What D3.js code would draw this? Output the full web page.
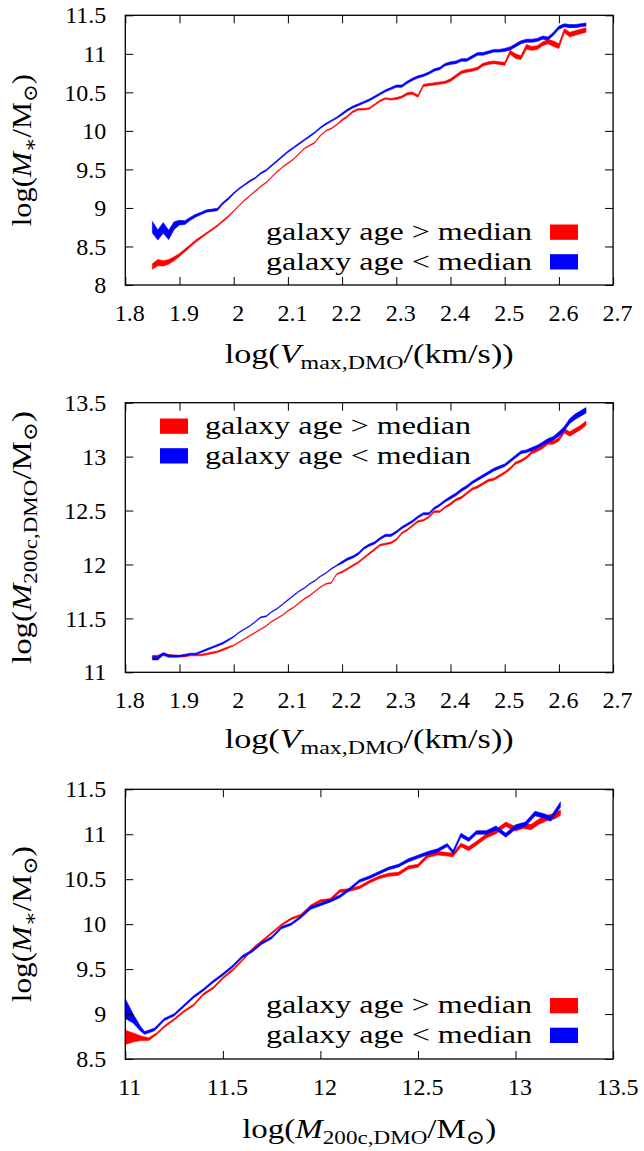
<!DOCTYPE html>
<html>
<head>
<meta charset="utf-8">
<script src="https://cdn.jsdelivr.net/npm/d3@7"></script>
<style>
  body { margin: 0; background: #fff; }
  svg { display: block; }
  text { font-family: "Liberation Serif", "DejaVu Serif", "Noto Serif", "Times New Roman", Tinos, FreeSerif, serif; fill: #000; }
</style>
</head>
<body>
<svg id="chart" width="644" height="1151"></svg>
<script>
// ---- data ----
var vmaxBins = [1.85,1.86,1.87,1.88,1.89,1.90,1.91,1.92,1.93,1.94,1.95,1.96,1.97,1.98,1.99,
  2.00,2.01,2.02,2.03,2.04,2.05,2.06,2.07,2.08,2.09,2.10,2.11,2.12,2.13,2.14,2.15,2.16,2.17,2.18,2.19,
  2.20,2.21,2.22,2.23,2.24,2.25,2.26,2.27,2.28,2.29,2.30,2.31,2.32,2.33,2.34,2.35,2.36,2.37,2.38,2.39,
  2.40,2.41,2.42,2.43,2.44,2.45,2.46,2.47,2.48,2.49,2.50,2.51,2.52,2.53,2.54,2.55,2.56,2.57,2.58,2.59,
  2.60,2.61,2.62,2.63,2.64,2.65];

// panel 1: log M* vs log Vmax
var mstarOld = [8.24,8.29,8.28,8.30,8.34,8.39,8.45,8.51,8.57,8.62,8.67,8.72,8.77,8.83,8.89,
  8.96,9.03,9.10,9.16,9.22,9.28,9.33,9.40,9.47,9.53,9.58,9.63,9.70,9.77,9.81,9.85,9.94,10.00,10.03,10.08,
  10.14,10.19,10.25,10.28,10.28,10.29,10.34,10.39,10.42,10.41,10.42,10.44,10.48,10.49,10.45,10.59,10.60,10.61,10.62,10.63,
  10.66,10.71,10.76,10.78,10.79,10.81,10.86,10.88,10.89,10.88,10.87,11.02,10.97,10.95,11.09,11.07,11.08,11.13,11.16,11.13,
  11.10,11.30,11.25,11.27,11.29,11.31];
var mstarOldErr = [0.07,0.08,0.07,0.06,0.05,0.04,0.035,0.03,0.03,0.025,0.02,0.02,0.02,0.02,0.02,
  0.012,0.012,0.012,0.012,0.012,0.012,0.012,0.012,0.012,0.012,0.012,0.012,0.012,0.012,0.012,0.012,0.012,0.012,0.012,0.012,
  0.02,0.02,0.02,0.02,0.02,0.02,0.02,0.02,0.02,0.02,0.025,0.025,0.03,0.03,0.03,0.03,0.03,0.03,0.03,0.03,
  0.035,0.035,0.035,0.035,0.035,0.035,0.035,0.035,0.035,0.035,0.04,0.05,0.06,0.05,0.06,0.05,0.05,0.05,0.06,0.07,
  0.06,0.05,0.06,0.06,0.06,0.06];
var mstarYoung = [8.75,8.65,8.74,8.65,8.77,8.81,8.81,8.86,8.90,8.93,8.96,8.97,8.98,9.06,9.12,
  9.19,9.25,9.30,9.35,9.39,9.45,9.49,9.55,9.61,9.67,9.73,9.78,9.83,9.88,9.93,9.98,10.04,10.09,10.13,10.17,
  10.22,10.27,10.31,10.34,10.37,10.40,10.44,10.48,10.52,10.55,10.58,10.58,10.63,10.67,10.70,10.72,10.75,10.79,10.81,10.86,
  10.88,10.89,10.92,10.92,10.96,11.00,11.00,11.02,11.04,11.04,11.05,11.07,11.11,11.15,11.17,11.17,11.18,11.21,11.20,11.26,
  11.34,11.37,11.36,11.36,11.37,11.38];
var mstarYoungErr = [0.15,0.13,0.14,0.12,0.10,0.06,0.05,0.04,0.035,0.03,0.03,0.03,0.03,0.025,0.025,
  0.018,0.018,0.018,0.018,0.018,0.018,0.018,0.018,0.018,0.018,0.018,0.018,0.018,0.018,0.018,0.018,0.018,0.018,0.018,0.018,
  0.025,0.025,0.025,0.025,0.025,0.025,0.025,0.025,0.025,0.025,0.03,0.03,0.03,0.03,0.03,0.03,0.03,0.03,0.03,0.03,
  0.035,0.035,0.035,0.035,0.035,0.035,0.035,0.035,0.035,0.035,0.04,0.04,0.04,0.04,0.04,0.04,0.04,0.04,0.04,0.04,
  0.04,0.04,0.04,0.04,0.04,0.04];

// panel 2: log M200c vs log Vmax
var mhaloOld = [11.15,11.15,11.17,11.16,11.15,11.15,11.15,11.16,11.16,11.16,11.17,11.18,11.19,11.21,11.23,
  11.25,11.28,11.31,11.34,11.37,11.40,11.43,11.47,11.50,11.53,11.57,11.60,11.64,11.68,11.71,11.75,11.79,11.82,11.83,11.91,
  11.93,11.96,11.99,12.02,12.06,12.10,12.14,12.18,12.19,12.20,12.23,12.29,12.32,12.36,12.40,12.41,12.44,12.49,12.49,12.53,
  12.56,12.60,12.62,12.66,12.70,12.72,12.75,12.78,12.79,12.82,12.85,12.89,12.94,12.96,12.99,13.04,13.06,13.09,13.13,13.13,
  13.16,13.24,13.21,13.24,13.27,13.31];
var mhaloOldErr = [0.015,0.015,0.015,0.015,0.015,0.015,0.015,0.015,0.015,0.015,0.015,0.015,0.015,0.015,0.015,
  0.008,0.008,0.008,0.008,0.008,0.008,0.008,0.008,0.008,0.008,0.008,0.008,0.008,0.008,0.008,0.008,0.008,0.008,0.008,0.008,
  0.015,0.015,0.015,0.015,0.015,0.015,0.015,0.015,0.015,0.015,0.015,0.015,0.015,0.015,0.015,0.015,0.015,0.015,0.015,0.015,
  0.02,0.02,0.02,0.02,0.02,0.02,0.02,0.02,0.02,0.02,0.02,0.02,0.02,0.02,0.02,0.025,0.025,0.03,0.03,0.03,
  0.03,0.04,0.04,0.04,0.04,0.04];
var mhaloYoung = [11.13,11.13,11.17,11.15,11.15,11.15,11.16,11.17,11.17,11.19,11.21,11.23,11.25,11.27,11.30,
  11.33,11.37,11.40,11.43,11.47,11.51,11.52,11.56,11.59,11.63,11.67,11.71,11.75,11.78,11.82,11.85,11.89,11.92,11.96,11.99,
  12.02,12.05,12.07,12.10,12.15,12.18,12.20,12.24,12.27,12.27,12.30,12.34,12.37,12.40,12.44,12.47,12.47,12.52,12.55,12.59,
  12.62,12.65,12.69,12.72,12.76,12.79,12.82,12.85,12.88,12.90,12.92,12.96,13.00,13.04,13.05,13.07,13.09,13.12,13.15,13.17,
  13.21,13.26,13.33,13.37,13.40,13.43];
var mhaloYoungErr = [0.03,0.03,0.025,0.02,0.02,0.015,0.015,0.015,0.015,0.015,0.015,0.015,0.015,0.015,0.015,
  0.008,0.008,0.008,0.008,0.008,0.008,0.008,0.008,0.008,0.008,0.008,0.008,0.008,0.008,0.008,0.008,0.008,0.008,0.008,0.008,
  0.02,0.02,0.02,0.02,0.02,0.02,0.02,0.02,0.02,0.02,0.02,0.02,0.02,0.02,0.02,0.02,0.02,0.02,0.02,0.02,
  0.025,0.025,0.025,0.025,0.025,0.025,0.025,0.025,0.025,0.025,0.025,0.025,0.025,0.025,0.025,0.03,0.03,0.03,0.035,0.035,
  0.04,0.04,0.045,0.05,0.05,0.05];

// panel 3: log M* vs log M200c
var m200Old = [11.00,11.04,11.08,11.12,11.16,11.20,11.25,11.30,11.35,11.40,11.45,11.50,11.55,11.60,11.65,
  11.70,11.75,11.80,11.85,11.90,11.95,12.00,12.05,12.10,12.15,12.20,12.25,12.30,12.35,12.40,
  12.45,12.50,12.55,12.60,12.64,12.68,12.72,12.76,12.80,12.85,12.90,12.95,13.00,13.04,13.08,13.12,13.16,13.20,13.23];
var smhmOld = [8.74,8.74,8.73,8.72,8.78,8.86,8.94,9.03,9.10,9.22,9.29,9.40,9.49,9.60,9.72,
  9.81,9.90,9.99,10.06,10.10,10.20,10.26,10.27,10.37,10.38,10.41,10.47,10.52,10.55,10.56,
  10.63,10.65,10.76,10.79,10.78,10.77,10.88,10.84,10.90,10.98,11.03,11.11,11.06,11.09,11.08,11.14,11.18,11.20,11.24];
var smhmOldErr = [0.16,0.10,0.05,0.03,0.02,0.02,0.02,0.02,0.02,0.02,0.02,0.02,0.02,0.02,0.02,
  0.02,0.02,0.02,0.02,0.02,0.025,0.025,0.03,0.03,0.03,0.03,0.03,0.03,0.035,0.035,
  0.035,0.035,0.04,0.04,0.04,0.04,0.04,0.045,0.045,0.045,0.05,0.05,0.05,0.05,0.06,0.06,0.06,0.06,0.06];
var m200Young = [11.00,11.04,11.08,11.10,11.15,11.20,11.25,11.30,11.35,11.40,11.45,11.50,11.55,11.60,11.65,
  11.70,11.75,11.80,11.85,11.90,11.95,12.00,12.05,12.10,12.15,12.20,12.25,12.30,12.35,12.40,
  12.45,12.50,12.55,12.60,12.65,12.68,12.72,12.76,12.80,12.85,12.90,12.95,13.00,13.05,13.10,13.15,13.18,13.23];
var smhmYoung = [9.06,8.95,8.83,8.79,8.83,8.94,8.99,9.09,9.19,9.27,9.36,9.44,9.53,9.64,9.70,
  9.79,9.85,9.96,10.00,10.08,10.18,10.22,10.26,10.31,10.39,10.48,10.52,10.57,10.62,10.65,
  10.71,10.75,10.79,10.82,10.88,10.80,10.99,10.94,11.02,11.02,11.07,10.99,11.08,11.11,11.23,11.20,11.17,11.33];
var smhmYoungErr = [0.22,0.10,0.05,0.03,0.03,0.025,0.025,0.025,0.025,0.025,0.025,0.025,0.025,0.025,0.025,
  0.025,0.025,0.025,0.025,0.025,0.03,0.03,0.03,0.03,0.03,0.03,0.03,0.03,0.03,0.03,
  0.035,0.035,0.035,0.035,0.035,0.04,0.04,0.04,0.04,0.04,0.045,0.045,0.05,0.05,0.05,0.05,0.05,0.06];

var vmaxTicks = [1.8,1.9,2,2.1,2.2,2.3,2.4,2.5,2.6,2.7];
var mstarTicks = [8,8.5,9,9.5,10,10.5,11,11.5];
var mhaloTicks = [11,11.5,12,12.5,13,13.5];
var m200Ticks = [11,11.5,12,12.5,13,13.5];
var smhmTicks = [8.5,9,9.5,10,10.5,11,11.5];
var legendNames = ["galaxy age > median", "galaxy age < median"];

// ---- labels (math-ish) ----
var labVmax = [{t:"log("},{t:"V",it:1},{t:"max,DMO",sub:1},{t:"/(km/s))"}];
var labMstar = [{t:"log("},{t:"M",it:1},{t:"\u2217",sub:1},{t:"/M"},{t:"\u2299",sub:1},{t:")"}];
var labM200 = [{t:"log("},{t:"M",it:1},{t:"200c,DMO",sub:1},{t:"/M"},{t:"\u2299",sub:1},{t:")"}];

var RED = "#ff0000", BLUE = "#0000ff";

var panels = [
  {top: 15.3, bottom: 285, xDom: [1.8, 2.7], yDom: [8, 11.5], xt: vmaxTicks, yt: mstarTicks,
   xlab: labVmax, xlabW: 289, ylab: labMstar, ylabW: 152, xlabY: 363,
   series: [[vmaxBins, mstarOld, mstarOldErr, RED], [vmaxBins, mstarYoung, mstarYoungErr, BLUE]],
   legend: {anchor: "end", tx: 532, sx: 550, y0: 224.5}},
  {top: 402.7, bottom: 672.3, xDom: [1.8, 2.7], yDom: [11, 13.5], xt: vmaxTicks, yt: mhaloTicks,
   xlab: labVmax, xlabW: 289, ylab: labM200, ylabW: 253, xlabY: 748,
   series: [[vmaxBins, mhaloOld, mhaloOldErr, RED], [vmaxBins, mhaloYoung, mhaloYoungErr, BLUE]],
   legend: {anchor: "start", tx: 205, sx: 160, y0: 418.5}},
  {top: 789.3, bottom: 1059, xDom: [11, 13.5], yDom: [8.5, 11.5], xt: m200Ticks, yt: smhmTicks,
   xlab: labM200, xlabW: 254, ylab: labMstar, ylabW: 156, xlabY: 1138,
   series: [[m200Old, smhmOld, smhmOldErr, RED], [m200Young, smhmYoung, smhmYoungErr, BLUE]],
   legend: {anchor: "end", tx: 532, sx: 550, y0: 998}}
];

var left = 125.3, right = 613.1, fsTick = 24, fsLab = 28, fsKey = 26, keyW = 266;
var svg = d3.select("#chart");

function richText(el, parts) {
  var shift = 0;
  parts.forEach(function(p) {
    var want = p.sub ? 6 : 0;
    var ts = el.append("tspan").text(p.t);
    if (want !== shift) { ts.attr("dy", want - shift); shift = want; }
    if (p.sub) ts.attr("font-size", "70%");
    if (p.it) ts.attr("font-style", "italic");
  });
}

panels.forEach(function(p) {
  var x = d3.scaleLinear().domain(p.xDom).range([left, right]);
  var y = d3.scaleLinear().domain(p.yDom).range([p.bottom, p.top]);
  var g = svg.append("g");

  // bands
  p.series.forEach(function(s) {
    var rows = s[0].map(function(v, i) { return {x: v, m: s[1][i], e: s[2][i]}; });
    var area = d3.area()
      .x(function(d) { return x(d.x); })
      .y0(function(d) { return y(d.m - d.e / 2); })
      .y1(function(d) { return y(d.m + d.e / 2); });
    g.append("path").datum(rows)
      .attr("d", area)
      .attr("fill", s[3])
      .attr("stroke", s[3])
      .attr("stroke-width", 0.6)
      .attr("stroke-linejoin", "round");
  });

  // axes, ticks pointing inward on all sides
  function styleAxis(a) {
    a.attr("font-family", null).attr("font-size", null);
    a.select(".domain").remove();
    a.selectAll(".tick line").attr("stroke", "#000").attr("stroke-width", 1);
    a.selectAll("text").attr("font-size", fsTick);
  }
  var bottomAx = g.append("g").attr("transform", "translate(0," + p.bottom + ")")
    .call(d3.axisBottom(x).tickValues(p.xt).tickSize(-8).tickFormat(function(d) { return d; }));
  styleAxis(bottomAx);
  bottomAx.selectAll("text").attr("y", 36).attr("dy", null).attr("dx", 4);

  var topAx = g.append("g").attr("transform", "translate(0," + p.top + ")")
    .call(d3.axisTop(x).tickValues(p.xt).tickSize(-8).tickFormat(""));
  styleAxis(topAx);

  var leftAx = g.append("g").attr("transform", "translate(" + left + ",0)")
    .call(d3.axisLeft(y).tickValues(p.yt).tickSize(-8).tickPadding(19).tickFormat(function(d) { return d; }));
  styleAxis(leftAx);

  var rightAx = g.append("g").attr("transform", "translate(" + right + ",0)")
    .call(d3.axisRight(y).tickValues(p.yt).tickSize(-8).tickFormat(""));
  styleAxis(rightAx);

  // frame
  g.append("rect")
    .attr("x", left).attr("y", p.top)
    .attr("width", right - left).attr("height", p.bottom - p.top)
    .attr("fill", "none").attr("stroke", "#000").attr("stroke-width", 1.3);

  // axis titles
  var xt = g.append("text").attr("x", (left + right) / 2).attr("y", p.xlabY)
    .attr("text-anchor", "middle").attr("font-size", fsLab)
    .attr("textLength", p.xlabW).attr("lengthAdjust", "spacingAndGlyphs");
  richText(xt, p.xlab);
  var yt = g.append("text")
    .attr("transform", "translate(31," + (p.top + p.bottom) / 2 + ") rotate(-90)")
    .attr("text-anchor", "middle").attr("font-size", fsLab)
    .attr("textLength", p.ylabW).attr("lengthAdjust", "spacingAndGlyphs");
  richText(yt, p.ylab);

  // key
  var L = p.legend;
  [RED, BLUE].forEach(function(c, i) {
    var yy = L.y0 + i * 29.7;
    g.append("rect").attr("x", L.sx).attr("y", yy).attr("width", 28).attr("height", 15.3).attr("fill", c);
    g.append("text").attr("x", L.tx).attr("y", yy + 15.3)
      .attr("text-anchor", L.anchor).attr("font-size", fsKey)
      .attr("textLength", keyW).attr("lengthAdjust", "spacingAndGlyphs")
      .text(legendNames[i]);
  });
});
</script>
</body>
</html>
